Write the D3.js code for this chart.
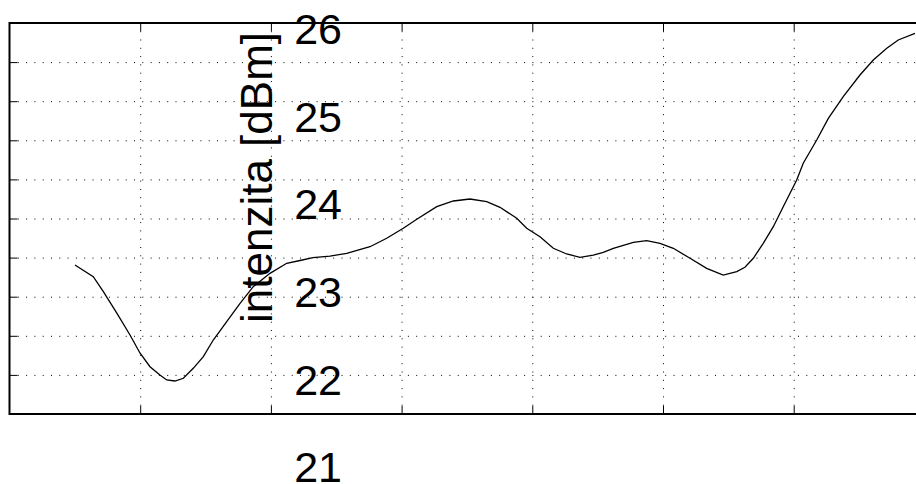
<!DOCTYPE html>
<html>
<head>
<meta charset="utf-8">
<script src="https://cdn.jsdelivr.net/npm/d3@7"></script>
<style>
    html, body { margin: 0; padding: 0; background: #fff; }
    svg { display: block; font-family: "Liberation Sans", Arial, Helvetica, sans-serif; }
    .grid line { stroke: #000; stroke-width: 1; stroke-dasharray: 1,7.3; }
    .grid path { display: none; }
    .ticks path { display: none; }
    .ticks line { stroke: #000; stroke-width: 1; }
    .labels path, .labels line { display: none; }
</style>
</head>
<body>
<div id="chart"></div>
<script>
// curve samples (x in axis units, intensity in dBm)
const xs = [0.501, 0.641, 0.718, 0.820, 0.922, 0.998, 1.075, 1.151, 1.203, 1.266,
            1.330, 1.406, 1.483, 1.559, 1.662, 1.764, 1.865, 1.993, 2.121, 2.223,
            2.322, 2.452, 2.580, 2.758, 2.886, 3.013, 3.116, 3.269, 3.396, 3.523,
            3.651, 3.753, 3.881, 3.957, 4.059, 4.161, 4.263, 4.365, 4.467, 4.543,
            4.620, 4.773, 4.875, 4.977, 5.079, 5.207, 5.334, 5.461, 5.564, 5.627,
            5.691, 5.767, 5.844, 5.920, 6.023, 6.073, 6.176, 6.265, 6.379, 6.507,
            6.609, 6.712, 6.800, 6.928];
const intensity = [22.905, 22.756, 22.564, 22.292, 22.010, 21.780, 21.605, 21.499, 21.435, 21.422,
                   21.457, 21.584, 21.733, 21.946, 22.180, 22.416, 22.628, 22.799, 22.927, 22.963,
                   22.999, 23.020, 23.055, 23.139, 23.247, 23.375, 23.490, 23.651, 23.724, 23.749,
                   23.715, 23.643, 23.503, 23.375, 23.267, 23.119, 23.046, 23.004, 23.033, 23.068,
                   23.119, 23.196, 23.216, 23.183, 23.119, 22.991, 22.863, 22.777, 22.820, 22.876,
                   22.991, 23.183, 23.395, 23.651, 23.992, 24.206, 24.504, 24.781, 25.058, 25.335,
                   25.527, 25.676, 25.783, 25.868];
const xTicks = [1, 2, 3, 4, 5, 6];
const yGridTicks = [21.5, 22, 22.5, 23, 23.5, 24, 24.5, 25, 25.5];
const yLabels = [26, 25, 24, 23, 22, 21];
const yTitle = "intenzita [dBm]";

const W = 916, H = 484;
const plotLeft = 9.5, plotTop = 23, plotBottom = 414, plotRight = 924.4;

const svg = d3.select("#chart").append("svg")
    .attr("width", W)
    .attr("height", H);

const x = d3.scaleLinear().domain([0, 7]).range([plotLeft, plotRight]);
const y = d3.scaleLinear().domain([21, 26]).range([plotBottom, plotTop]);
// tick labels are drawn larger than the axis spacing, as in the source figure
const yLab = d3.scaleLinear().domain([21, 26]).range([466.3, 28]);

// dotted grid
svg.append("g")
    .attr("class", "grid")
    .attr("transform", `translate(${plotLeft},0)`)
    .call(d3.axisLeft(y).tickValues(yGridTicks).tickSize(-(plotRight - plotLeft)).tickFormat(""));

svg.append("g")
    .attr("class", "grid")
    .attr("transform", `translate(0,${plotBottom})`)
    .call(d3.axisBottom(x).tickValues(xTicks).tickSize(-(plotBottom - plotTop)).tickFormat(""));

// inward tick marks on all four sides
const tl = 8;
svg.append("g").attr("class", "ticks").attr("transform", `translate(${plotLeft},0)`)
    .call(d3.axisLeft(y).tickValues(yGridTicks).tickSize(-tl).tickFormat(""));
svg.append("g").attr("class", "ticks").attr("transform", `translate(${plotRight},0)`)
    .call(d3.axisRight(y).tickValues(yGridTicks).tickSize(-tl).tickFormat(""));
svg.append("g").attr("class", "ticks").attr("transform", `translate(0,${plotBottom})`)
    .call(d3.axisBottom(x).tickValues(xTicks).tickSize(-tl).tickFormat(""));
svg.append("g").attr("class", "ticks").attr("transform", `translate(0,${plotTop})`)
    .call(d3.axisTop(x).tickValues(xTicks).tickSize(-tl).tickFormat(""));

// axes box
svg.append("rect")
    .attr("x", plotLeft)
    .attr("y", plotTop)
    .attr("width", plotRight - plotLeft)
    .attr("height", plotBottom - plotTop)
    .style("fill", "none")
    .style("stroke", "#000")
    .style("stroke-width", 2);

// curve
const line = d3.line()
    .x(d => x(d[0]))
    .y(d => y(d[1]));

svg.append("path")
    .datum(xs.map((v, i) => [v, intensity[i]]))
    .attr("d", line)
    .style("fill", "none")
    .style("stroke", "#000")
    .style("stroke-width", 1.3);

// y title
svg.append("text")
    .attr("transform", "translate(272,177.5) rotate(-90)")
    .style("text-anchor", "middle")
    .style("font-size", "44px")
    .style("fill", "#000")
    .text(yTitle);

// y tick labels
const labels = svg.append("g")
    .attr("class", "labels")
    .attr("transform", "translate(342,0)")
    .call(d3.axisLeft(yLab).tickValues(yLabels).tickSize(0).tickPadding(0).tickFormat(d3.format("d")));

labels.selectAll("text")
    .attr("dy", "0.358em")
    .style("font-size", "43px")
    .style("font-family", "\"Liberation Sans\", Arial, Helvetica, sans-serif")
    .style("fill", "#000");
</script>
</body>
</html>
